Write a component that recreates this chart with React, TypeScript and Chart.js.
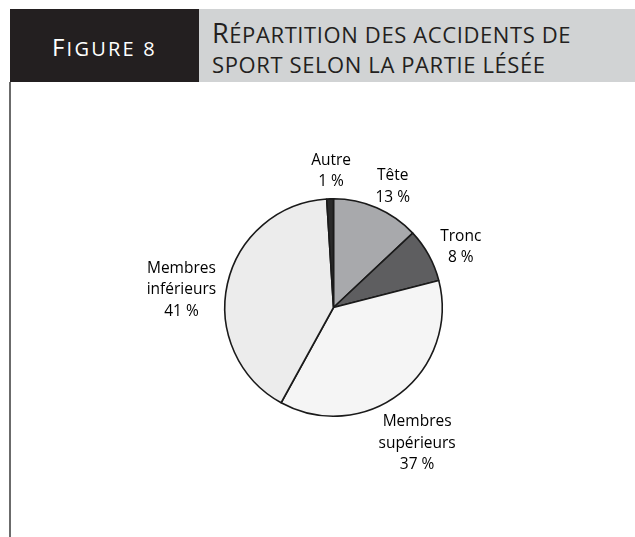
import React, { useEffect, useRef } from "react";
import { Chart, registerables } from "chart.js";

Chart.register(...registerables);

const categories = ["Tête", "Tronc", "Membres supérieurs", "Membres inférieurs", "Autre"];
const categoryLines = [["Tête"], ["Tronc"], ["Membres", "supérieurs"], ["Membres", "inférieurs"], ["Autre"]];
const values = [13, 8, 37, 41, 1];
const sliceColors = ["#a8a9ac", "#5e5e60", "#f5f5f5", "#ececec", "#2a2a2a"];

const figureLabel = "Figure 8";
const titleLines = ["Répartition des accidents de", "sport selon la partie lésée"];

// label offsets from the rim point at each slice's middle angle (layout only)
const labelOffsets: [number, number][] = [
  [16, -21],
  [32, -8],
  [17, 50],
  [-46, 6],
  [1, -28],
];

const TEXT = "#231f20";

const labelPlugin = {
  id: "sliceLabels",
  afterDatasetsDraw(chart: any) {
    const meta = chart.getDatasetMeta(0);
    const ctx = chart.ctx;
    ctx.save();
    ctx.fillStyle = "#000000";
    ctx.font = "15.5px 'Open Sans'";
    ctx.textAlign = "center";
    ctx.textBaseline = "middle";
    const lh = 21.5;
    meta.data.forEach((arc: any, i: number) => {
      const p = arc.getProps(["x", "y", "startAngle", "endAngle", "outerRadius"], true);
      const mid = (p.startAngle + p.endAngle) / 2;
      const rx = p.x + Math.cos(mid) * p.outerRadius;
      const ry = p.y + Math.sin(mid) * p.outerRadius;
      const cx = rx + labelOffsets[i][0];
      const cy = ry + labelOffsets[i][1];
      const lines = [...categoryLines[i], `${values[i]} %`];
      const start = cy - ((lines.length - 1) * lh) / 2;
      lines.forEach((t, k) => ctx.fillText(t, cx, start + k * lh));
    });
    ctx.restore();
  },
};

function SmallCaps({ text, big, small }: { text: string; big: number; small: number }) {
  const words = text.split(" ");
  return (
    <>
      {words.map((w, wi) => (
        <React.Fragment key={wi}>
          {wi > 0 ? <span style={{ fontSize: small }}> </span> : null}
          {w.split("").map((ch, ci) => {
            const isCap = ch !== ch.toLowerCase();
            return (
              <span key={ci} style={{ fontSize: isCap ? big : small }}>
                {ch.toUpperCase()}
              </span>
            );
          })}
        </React.Fragment>
      ))}
    </>
  );
}

export default function App() {
  const canvasRef = useRef<HTMLCanvasElement | null>(null);

  useEffect(() => {
    if (!canvasRef.current) return;
    const chart = new Chart(canvasRef.current, {
      type: "pie",
      data: {
        labels: categories,
        datasets: [
          {
            data: values,
            backgroundColor: sliceColors,
            borderColor: "#1a1a1a",
            borderWidth: 1.6,
          },
        ],
      },
      options: {
        responsive: false,
        animation: false,
        layout: { padding: { left: 224, right: 192, top: 116, bottom: 120 } },
        plugins: {
          legend: { display: false },
          tooltip: { enabled: false },
        },
      },
      plugins: [labelPlugin],
    });
    return () => chart.destroy();
  }, []);

  return (
    <div
      style={{
        position: "absolute",
        left: 0,
        top: 0,
        width: 635,
        height: 537,
        overflow: "hidden",
        background: "#fff",
        fontFamily: "'Open Sans', sans-serif",
      }}
    >
      <div
        style={{
          position: "absolute",
          left: 10,
          top: 9,
          width: 189,
          height: 73,
          background: "#231f20",
        }}
      />
      <div
        style={{
          position: "absolute",
          left: 199,
          top: 9,
          width: 436,
          height: 73,
          background: "#d1d3d4",
        }}
      />
      <div
        style={{
          position: "absolute",
          left: 52,
          top: 32,
          lineHeight: "29px",
          color: "#ffffff",
          whiteSpace: "nowrap",
          letterSpacing: "2.2px",
        }}
      >
        <SmallCaps text={figureLabel} big={24} small={20} />
      </div>
      <div
        style={{
          position: "absolute",
          left: 212,
          top: 18,
          lineHeight: "29px",
          color: TEXT,
          whiteSpace: "nowrap",
          letterSpacing: "0.6px",
        }}
      >
        {titleLines.map((l, i) => (
          <div key={i} style={{ fontSize: 26 }}>
            <SmallCaps text={i === 0 ? "R" + l.slice(1) : l} big={27} small={22} />
          </div>
        ))}
      </div>
      <div
        style={{
          position: "absolute",
          left: 9,
          top: 82,
          width: 2,
          height: 455,
          background: "#6b6b6b",
        }}
      />
      <canvas
        ref={canvasRef}
        width={635}
        height={455}
        style={{ position: "absolute", left: 0, top: 82, width: 635, height: 455 }}
      />
    </div>
  );
}
